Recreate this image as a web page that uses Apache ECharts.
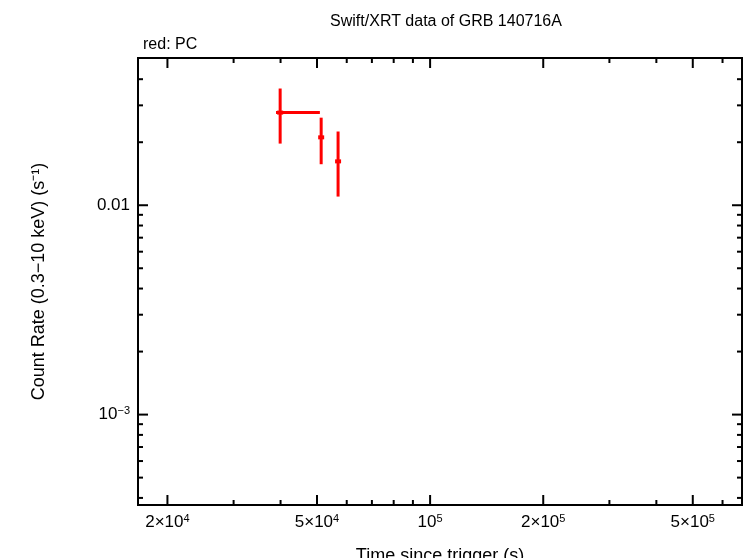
<!DOCTYPE html>
<html><head><meta charset="utf-8">
<script src="https://cdn.jsdelivr.net/npm/echarts@6/dist/echarts.min.js"></script>
<style>html,body{margin:0;padding:0;background:#fff}#c{width:746px;height:558px}</style>
</head><body><div id="c"></div>
<script>
// data (time s, rate counts/s)
const times   = [39900, 51300, 56900];
const timeLo  = [38900, 50800, 56400];
const timeHi  = [50900, 51800, 57400];
const rates   = [0.0277, 0.0211, 0.0162];
const rateLo  = [0.0197, 0.0157, 0.0110];
const rateHi  = [0.0361, 0.0262, 0.0225];
const xMajor = [[2e4,'2×10','4'],[5e4,'5×10','4'],[1e5,'10','5'],[2e5,'2×10','5'],[5e5,'5×10','5']];
const xMinor = [3e4,4e4,6e4,7e4,8e4,9e4,3e5,4e5,6e5];
const yMajor = [[0.01,'0.01',''],[0.001,'10','−3']];
const yMinor = [4e-4,5e-4,6e-4,7e-4,8e-4,9e-4,0.002,0.003,0.004,0.005,0.006,0.007,0.008,0.009,0.02,0.03,0.04];
const X0=16700, X1=676000, Y0=3.7e-4, Y1=0.0505;
const L=Math.log10;
const chart=echarts.init(document.getElementById('c'));
const font='Liberation Sans, Arial, sans-serif';
const ticks=[];
xMajor.forEach(t=>ticks.push({ax:'x',v:t[0],len:10,lab:t}));
xMinor.forEach(v=>ticks.push({ax:'x',v:v,len:5}));
yMajor.forEach(t=>ticks.push({ax:'y',v:t[0],len:10,lab:t}));
yMinor.forEach(v=>ticks.push({ax:'y',v:v,len:5}));
const ln=(x1,y1,x2,y2,c,w)=>({type:'line',shape:{x1,y1,x2,y2},style:{stroke:c,lineWidth:w}});
chart.setOption({
  animation:false,
  title:[{text:'Swift/XRT data of GRB 140716A',left:441,top:9,textAlign:'center',textStyle:{fontFamily:font,fontWeight:'normal',fontSize:16,color:'#000'}},
         {text:'red: PC',left:138,top:32,textStyle:{fontFamily:font,fontWeight:'normal',fontSize:16,color:'#000'}}],
  grid:{left:138,top:58,right:4,bottom:53,containLabel:false,outerBoundsMode:'none',show:true,borderColor:'#000',borderWidth:2,backgroundColor:'transparent'},
  xAxis:{type:'value',min:L(X0),max:L(X1),axisLine:{show:false},axisTick:{show:false},axisLabel:{show:false},splitLine:{show:false},
    name:'Time since trigger (s)',nameLocation:'middle',nameGap:42,nameTextStyle:{fontFamily:font,fontSize:18,color:'#000'}},
  yAxis:{type:'value',min:L(Y0),max:L(Y1),axisLine:{show:false},axisTick:{show:false},axisLabel:{show:false},splitLine:{show:false},
    name:'Count Rate (0.3−10 keV) (s⁻¹)',nameLocation:'middle',nameGap:90,nameTextStyle:{fontFamily:font,fontSize:18,color:'#000'}},
  series:[
    {type:'custom',data:ticks.map((t,i)=>[i]),clip:false,renderItem:(p,api)=>{
      const t=ticks[api.value(0)];const cs=p.coordSys;const ch=[];
      if(t.ax==='x'){const x=api.coord([L(t.v),L(Y0)])[0];
        ch.push(ln(x,cs.y+cs.height,x,cs.y+cs.height-t.len,'#000',2),ln(x,cs.y,x,cs.y+t.len,'#000',2));
        if(t.lab)ch.push({type:'text',x:x,y:cs.y+cs.height+8,style:{text:'{a|'+t.lab[1]+'}{s|'+t.lab[2]+'}',align:'center',verticalAlign:'top',rich:{a:{fontFamily:font,fontSize:17,color:'#000'},s:{fontFamily:font,fontSize:11,color:'#000',verticalAlign:'top',padding:[0,0,8,0]}}}});
      }else{const y=api.coord([L(X0),L(t.v)])[1];
        ch.push(ln(cs.x,y,cs.x+t.len,y,'#000',2),ln(cs.x+cs.width,y,cs.x+cs.width-t.len,y,'#000',2));
        if(t.lab)ch.push({type:'text',x:cs.x-8,y:y,style:{text:'{a|'+t.lab[1]+'}'+(t.lab[2]?'{s|'+t.lab[2]+'}':''),align:'right',verticalAlign:'middle',rich:{a:{fontFamily:font,fontSize:17,color:'#000'},s:{fontFamily:font,fontSize:11,color:'#000',padding:[0,0,8,0]}}}});
      }
      return {type:'group',children:ch};}},
    {type:'custom',data:times.map((t,i)=>[L(t),L(rates[i]),L(timeLo[i]),L(timeHi[i]),L(rateLo[i]),L(rateHi[i])]),
     renderItem:(p,api)=>{
      const c=api.coord([api.value(0),api.value(1)]);
      const xl=api.coord([api.value(2),api.value(1)])[0],xh=api.coord([api.value(3),api.value(1)])[0];
      const yl=api.coord([api.value(0),api.value(4)])[1],yh=api.coord([api.value(0),api.value(5)])[1];
      return {type:'group',children:[ln(xl,c[1],xh,c[1],'#ff0000',3),ln(c[0],yl,c[0],yh,'#ff0000',3),
        ln(c[0]-3,c[1],c[0]+3,c[1],'#ff0000',4)]};}}
  ]
});
</script></body></html>
